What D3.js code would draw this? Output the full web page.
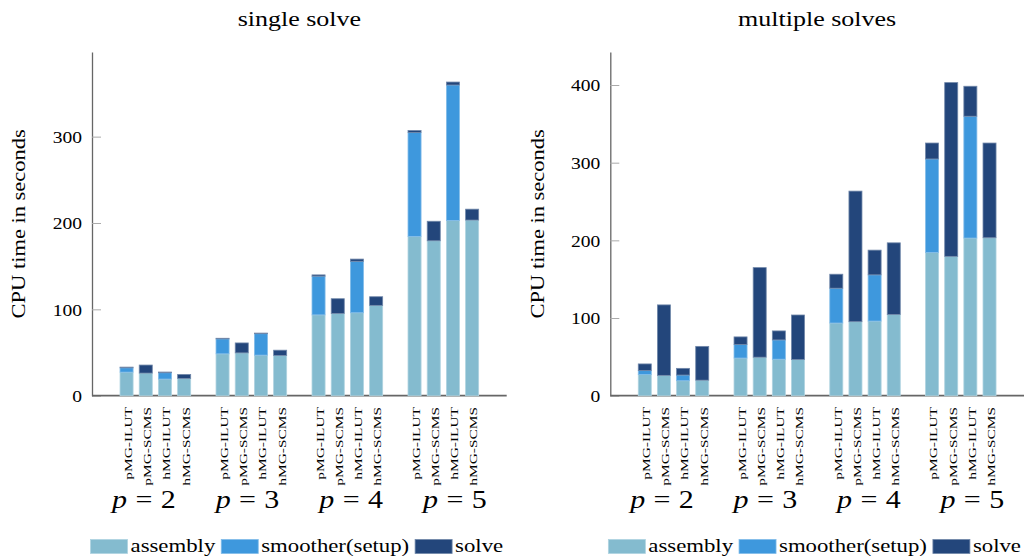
<!DOCTYPE html>
<html>
<head>
<meta charset="utf-8">
<script src="https://cdn.jsdelivr.net/npm/d3@7/dist/d3.min.js"></script>
<style>
  body { margin: 0; background: #fff; }
  svg text { font-family: "Liberation Serif", "Times New Roman", serif; fill: #000; }
</style>
</head>
<body>
<svg id="chart" width="1024" height="560"></svg>
<script>
// ---- data ----
const methods = ['pMG-ILUT', 'pMG-SCMS', 'hMG-ILUT', 'hMG-SCMS'];
const degrees = [2, 3, 4, 5];
const seriesNames = ['assembly', 'smoother(setup)', 'solve'];

// one value per (degree, method), degree-major
const assembly = [27.3, 26.2, 19.3, 20.0, 48.5, 49.6, 47.0, 46.6, 93.6, 95.3, 96.1, 104.6, 184.5, 179.4, 203.0, 203.4];
const smoother = [5.0, 0, 7.3, 0, 17.3, 0, 24.8, 0, 44.8, 0, 59.5, 0, 120.3, 0, 156.8, 0];
const solveSingle = [0.8, 9.3, 0.8, 4.6, 0.7, 11.5, 0.7, 6.1, 1.5, 17.0, 2.6, 10.0, 2.3, 22.6, 3.4, 12.6];
const solveMultiple = [8.6, 90.7, 8.6, 43.5, 9.9, 115.3, 11.6, 57.3, 18.0, 168.1, 31.8, 92.2, 20.5, 223.7, 38.6, 121.9];

const singleTicks = [0, 100, 200, 300];
const multipleTicks = [0, 100, 200, 300, 400];

const colors = ['#84bbcf', '#3e98dd', '#23467b'];

// ---- layout ----
const svg = d3.select('#chart');
const yBottom = 395.7, yTop = 52;

const panels = [
  { title: 'single solve', solve: solveSingle, ticks: singleTicks, yMax: 398, x0: 92, x1: 506.7, ylabelX: 19 },
  { title: 'multiple solves', solve: solveMultiple, ticks: multipleTicks, yMax: 442.5, x0: 610.3, x1: 1024, ylabelX: 538 }
];

// place a text with horizontal stretch (the reference uses a wide TeX font)
function place(sel, x, y, rot, sx) {
  sel.attr('transform', `translate(${x},${y}) rotate(${rot}) scale(${sx},1)`);
}

panels.forEach(p => {
  const g = svg.append('g');

  const rows = assembly.map((a, i) => ({
    pos: Math.floor(i / methods.length) * (methods.length + 1) + (i % methods.length),
    method: methods[i % methods.length],
    assembly: a,
    'smoother(setup)': smoother[i],
    solve: p.solve[i]
  }));

  const x = d3.scaleLinear().domain([-1.8, 19.8]).range([p.x0, p.x1]);
  const y = d3.scaleLinear().domain([0, p.yMax]).range([yBottom, yTop]);
  const color = d3.scaleOrdinal().domain(seriesNames).range(colors);
  const barW = x(0.68) - x(0);

  // title
  g.append('text')
    .attr('text-anchor', 'middle')
    .style('font-size', '20px')
    .text(p.title)
    .call(place, (p.x0 + p.x1) / 2, 26, 0, 1.3);

  // y axis
  const yAxis = g.append('g')
    .attr('transform', `translate(${p.x0},0)`)
    .call(d3.axisLeft(y).tickValues(p.ticks).tickFormat(d3.format('d'))
      .tickSize(-9).tickSizeOuter(0).tickPadding(10));
  yAxis.attr('font-family', null);
  yAxis.select('.domain').attr('stroke', '#666').attr('stroke-width', 1.3);
  yAxis.selectAll('.tick line').attr('stroke', '#aaa').attr('stroke-width', 1);
  yAxis.selectAll('.tick text')
    .style('font-size', '17px')
    .attr('x', null)
    .attr('dy', '0.35em')
    .attr('transform', 'translate(-10,0) scale(1.15,1)');

  // y label
  g.append('text')
    .attr('text-anchor', 'middle')
    .attr('dy', '0.35em')
    .style('font-size', '18px')
    .text('CPU time in seconds')
    .call(place, p.ylabelX, (yBottom + yTop) / 2, -90, 1.25);

  // x axis line
  g.append('line')
    .attr('x1', p.x0).attr('x2', p.x1)
    .attr('y1', y(0)).attr('y2', y(0))
    .attr('stroke', '#666').attr('stroke-width', 1.8);

  // stacked bars
  const stacked = d3.stack().keys(seriesNames)(rows);
  g.append('g').selectAll('g')
    .data(stacked)
    .join('g')
    .attr('fill', d => color(d.key))
    .attr('stroke', d => d3.interpolateRgb(color(d.key), '#fff')(0.35))
    .attr('stroke-width', 0.8)
    .selectAll('rect')
    .data(d => d.filter(s => s[1] - s[0] > 0))
    .join('rect')
    .attr('x', d => x(d.data.pos) - barW / 2)
    .attr('width', barW)
    .attr('y', d => y(d[1]))
    .attr('height', d => y(d[0]) - y(d[1]));

  // method labels
  g.append('g').selectAll('text')
    .data(rows)
    .join('text')
    .attr('text-anchor', 'end')
    .attr('dy', '0.35em')
    .style('font-size', '11px')
    .text(d => d.method)
    .each(function (d) {
      d3.select(this).call(place, x(d.pos) + 1.5, 407, -90, 1.4);
    });

  // degree labels
  const band = d3.scaleBand().domain(degrees).range([p.x0, p.x1]);
  g.append('g').selectAll('text')
    .data(degrees)
    .join('text')
    .attr('text-anchor', 'middle')
    .style('font-size', '25px')
    .each(function (d) {
      const t = d3.select(this);
      t.append('tspan').style('font-style', 'italic').text('p');
      t.append('tspan').attr('dx', 7).text('=');
      t.append('tspan').attr('dx', 7).text(d);
      place(t, band(d) + band.bandwidth() / 2, 508, 0, 1.2);
    });

  // legend
  const lg = g.append('g');
  let cx = 0;
  seriesNames.forEach((name, k) => {
    lg.append('rect')
      .attr('x', cx).attr('y', 539.5)
      .attr('width', 37).attr('height', 14)
      .attr('fill', colors[k])
      .attr('stroke', d3.interpolateRgb(colors[k], '#fff')(0.35))
      .attr('stroke-width', 0.8);
    cx += 40;
    const t = lg.append('text').style('font-size', '19.3px').text(name);
    const w = t.node().getComputedTextLength() * 1.18;
    place(t, cx, 551.7, 0, 1.18);
    cx += w + 6;
  });
  const lw = cx - 6;
  lg.attr('transform', `translate(${(p.x0 + p.x1) / 2 - 2.5 - lw / 2},0)`);
});
</script>
</body>
</html>
